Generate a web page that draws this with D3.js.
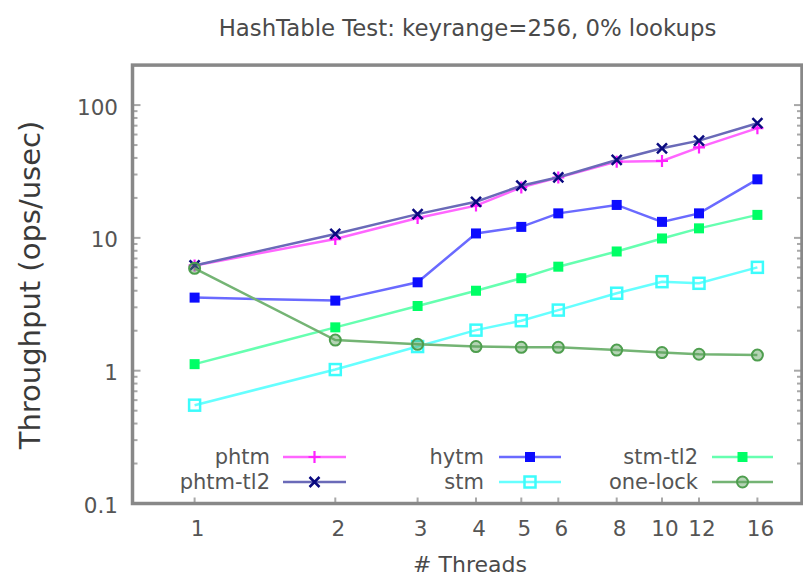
<!DOCTYPE html>
<html>
<head>
<meta charset="utf-8">
<script src="https://cdn.jsdelivr.net/npm/d3@7"></script>
<style>
  html, body { margin: 0; padding: 0; background: #fff; }
  svg { display: block; }
  text { font-family: "DejaVu Sans", "Liberation Sans", sans-serif; }
</style>
</head>
<body>
<svg id="chart" width="803" height="578"></svg>
<script>
// ---- data ----
const threads = [1, 2, 3, 4, 5, 6, 8, 10, 12, 16];
const xTickLabels = ["1", "2", "3", "4", "5", "6", "8", "10", "12", "16"];
const yTickValues = [0.1, 1, 10, 100];
const yTickLabels = ["0.1", "1", "10", "100"];
const seriesNames = ["phtm", "phtm-tl2", "hytm", "stm", "stm-tl2", "one-lock"];
const phtm    = [6.2, 9.8, 14.1, 17.5, 24.0, 28.5, 37.5, 38.0, 48.0, 67.0];
const phtmTl2 = [6.2, 10.7, 15.1, 18.7, 24.7, 28.6, 38.6, 47.3, 54.0, 73.0];
const hytm    = [3.55, 3.37, 4.63, 10.8, 12.1, 15.3, 17.7, 13.2, 15.3, 27.6];
const stm     = [0.55, 1.02, 1.52, 2.02, 2.38, 2.86, 3.83, 4.68, 4.55, 6.0];
const stmTl2  = [1.12, 2.12, 3.07, 4.0, 4.97, 6.07, 7.9, 9.9, 11.8, 14.9];
const oneLock = [5.9, 1.70, 1.58, 1.52, 1.50, 1.50, 1.43, 1.37, 1.33, 1.31];
const titleText = "HashTable Test: keyrange=256, 0% lookups";
const xLabel = "# Threads";
const yLabel = "Throughput (ops/usec)";

// ---- styles ----
const styles = [
  { line: "#ff66ff", mark: "#ff22ff", shape: "plus" },
  { line: "#6a6ab8", mark: "#0a0a80", shape: "cross" },
  { line: "#6a6aff", mark: "#0c0cff", shape: "fsquare" },
  { line: "#66ffff", mark: "#3cfcfc", shape: "osquare" },
  { line: "#66ffb0", mark: "#00ff66", shape: "fsquare" },
  { line: "#74b474", mark: "#4e9e4e", shape: "circle" }
];
const allSeries = [phtm, phtmTl2, hytm, stm, stmTl2, oneLock];

const svg = d3.select("#chart");
const frame = { left: 132.5, right: 802, top: 65.1, bottom: 503.5 };

const x = d3.scaleLog().base(2).domain([1, 16]).range([194.6, 757.4]);
const y = d3.scaleLog().domain([0.1, 200]).range([frame.bottom, frame.top]);

// ---- ticks ----
const tickG = svg.append("g").attr("stroke", "#a8a8a8").attr("stroke-width", 2);
const minorVals = [];
[0.1, 1, 10, 100].forEach(d => { for (let k = 1; k <= 9; k++) { const v = d * k; if (v <= 200) minorVals.push(v); } });
minorVals.forEach(v => {
  const major = yTickValues.includes(v);
  const len = major ? 8 : 5;
  tickG.append("line").attr("x1", frame.left).attr("x2", frame.left + len).attr("y1", y(v)).attr("y2", y(v));
  tickG.append("line").attr("x1", frame.right).attr("x2", frame.right - len).attr("y1", y(v)).attr("y2", y(v));
});
threads.forEach(t => {
  tickG.append("line").attr("x1", x(t)).attr("x2", x(t)).attr("y1", frame.bottom).attr("y2", frame.bottom - 6);
});

// ---- frame ----
svg.append("rect")
  .attr("x", frame.left).attr("y", frame.top)
  .attr("width", frame.right - frame.left).attr("height", frame.bottom - frame.top)
  .attr("fill", "none").attr("stroke", "#888").attr("stroke-width", 3.5);

// ---- tick labels ----
svg.append("g").selectAll("text").data(yTickValues).join("text")
  .attr("x", 118).attr("y", d => y(d) + 9.5)
  .attr("text-anchor", "end").attr("font-size", 21.5).attr("fill", "#555")
  .text((d, i) => yTickLabels[i]);
svg.append("g").selectAll("text").data(threads).join("text")
  .attr("x", d => x(d) + 3).attr("y", 536)
  .attr("text-anchor", "middle").attr("font-size", 21.5).attr("fill", "#555")
  .text((d, i) => xTickLabels[i]);

// ---- titles ----
svg.append("text").attr("x", 467.5).attr("y", 35.5).attr("text-anchor", "middle")
  .attr("font-size", 22.8).attr("fill", "#4a4a4a").text(titleText);
svg.append("text").attr("x", 470).attr("y", 572).attr("text-anchor", "middle")
  .attr("font-size", 22).attr("fill", "#4a4a4a").text(xLabel);
svg.append("text").attr("transform", "translate(40,285) rotate(-90)").attr("text-anchor", "middle")
  .attr("font-size", 29).attr("fill", "#3a3a3a").text(yLabel);

// ---- markers ----
function drawMarker(g, shape, color, cx, cy) {
  if (shape === "plus") {
    g.append("path").attr("d", `M${cx-6},${cy}H${cx+6}M${cx},${cy-6}V${cy+6}`)
      .attr("stroke", color).attr("stroke-width", 2.2).attr("fill", "none");
  } else if (shape === "cross") {
    g.append("path").attr("d", `M${cx-5},${cy-5}L${cx+5},${cy+5}M${cx-5},${cy+5}L${cx+5},${cy-5}`)
      .attr("stroke", color).attr("stroke-width", 2.5).attr("fill", "none");
  } else if (shape === "fsquare") {
    g.append("rect").attr("x", cx - 5).attr("y", cy - 5).attr("width", 10).attr("height", 10)
      .attr("fill", color);
  } else if (shape === "osquare") {
    g.append("rect").attr("x", cx - 5.5).attr("y", cy - 5.5).attr("width", 11).attr("height", 11)
      .attr("fill", "none").attr("stroke", color).attr("stroke-width", 2.5);
  } else if (shape === "circle") {
    g.append("circle").attr("cx", cx).attr("cy", cy).attr("r", 5.5)
      .attr("fill", "rgba(90,160,90,0.45)").attr("stroke", color).attr("stroke-width", 2);
  }
}

// ---- series ----
const line = d3.line().x(d => x(d[0])).y(d => y(d[1]));
const plotG = svg.append("g");
allSeries.forEach((vals, i) => {
  const pts = threads.map((t, j) => [t, vals[j]]);
  plotG.append("path").datum(pts).attr("d", line)
    .attr("fill", "none").attr("stroke", styles[i].line).attr("stroke-width", 2.5);
  const mg = plotG.append("g");
  pts.forEach(p => drawMarker(mg, styles[i].shape, styles[i].mark, x(p[0]), y(p[1])));
});

// ---- legend ----
const legendCols = [{ textX: 270, x1: 283, x2: 346 }, { textX: 484, x1: 499, x2: 561 }, { textX: 698, x1: 712, x2: 773 }];
const legendRows = [457, 482];
const legendOrder = [[0, 0, 0], [1, 0, 1], [2, 1, 0], [3, 1, 1], [4, 2, 0], [5, 2, 1]];
const legG = svg.append("g");
legendOrder.forEach(([si, c, r]) => {
  const col = legendCols[c], ly = legendRows[r];
  legG.append("text").attr("x", col.textX).attr("y", ly + 6.5).attr("text-anchor", "end")
    .attr("font-size", 21).attr("fill", "#555").text(seriesNames[si]);
  legG.append("line").attr("x1", col.x1).attr("x2", col.x2).attr("y1", ly).attr("y2", ly)
    .attr("stroke", styles[si].line).attr("stroke-width", 2.5);
  drawMarker(legG, styles[si].shape, styles[si].mark, (col.x1 + col.x2) / 2, ly);
});
</script>
</body>
</html>
